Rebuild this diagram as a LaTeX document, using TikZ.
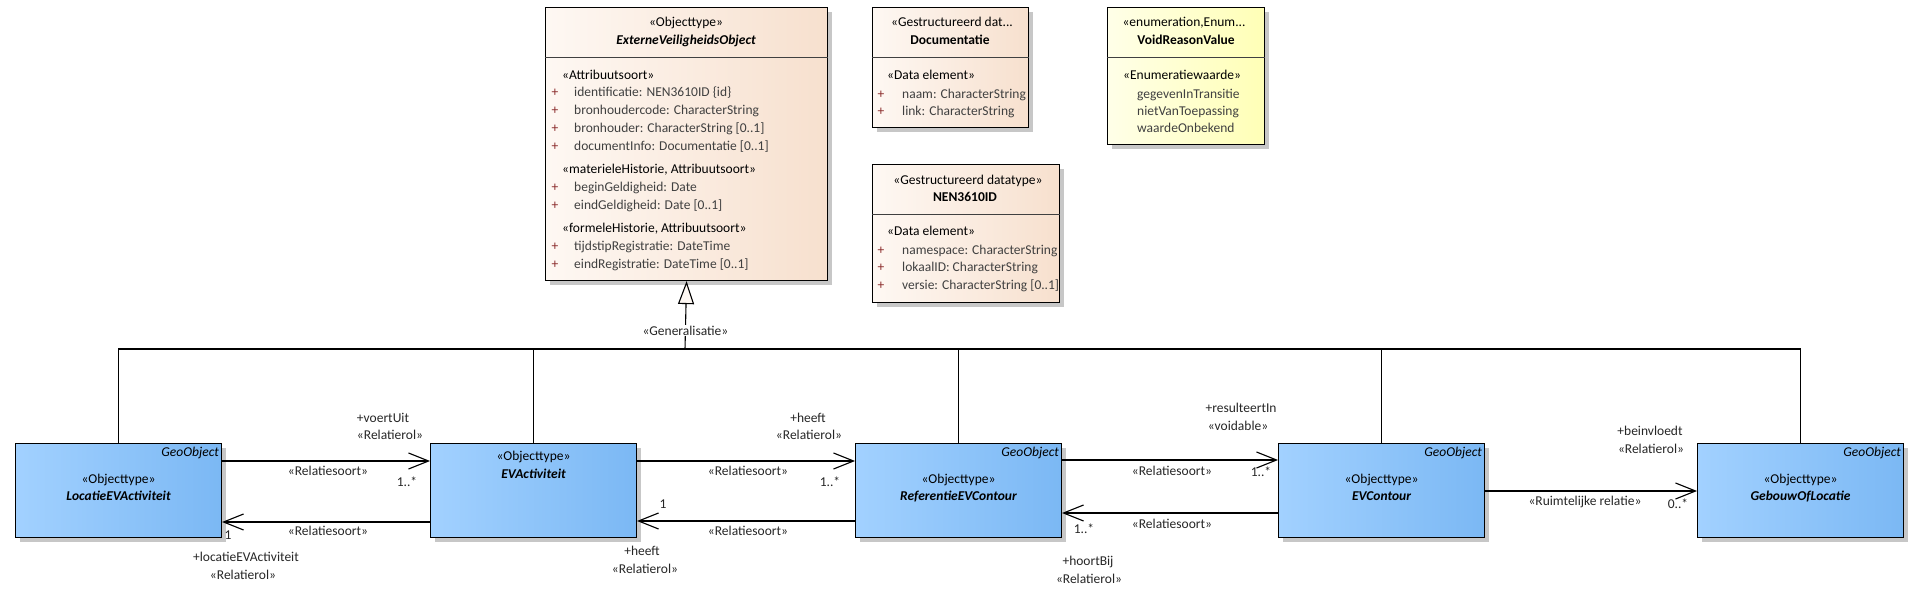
\documentclass[tikz,border=0pt]{standalone}
\usepackage{fontspec}
\setmainfont{Carlito}
\usetikzlibrary{arrows.meta,shadows}
\definecolor{peachL}{HTML}{FEF8F3}
\definecolor{peachR}{HTML}{F7E0CE}
\definecolor{blueL}{HTML}{A2D1FF}
\definecolor{blueR}{HTML}{7BB8F4}
\definecolor{yelL}{HTML}{FFFFE8}
\definecolor{yelR}{HTML}{FFFFB6}
\definecolor{attrgray}{HTML}{404040}
\definecolor{plusred}{HTML}{8A2A2A}
\tikzset{
  klasse/.style={draw=black,line width=1.1pt,anchor=north west,inner sep=0pt,
    drop shadow={shadow xshift=4pt,shadow yshift=-4pt,fill=black!22,opacity=1}},
  datakl/.style={klasse,left color=peachL,right color=peachR},
  enumkl/.style={klasse,left color=yelL,right color=yelR},
  geokl/.style={klasse,left color=blueL,right color=blueR,minimum width=206pt,minimum height=94pt},
  sepline/.style={draw=black!75,line width=0.9pt},
  ctr/.style={inner sep=0pt,anchor=mid},
  lft/.style={inner sep=0pt,anchor=mid west},
  attr/.style={lft,text=attrgray},
  plus/.style={ctr,text=plusred},
  lbl/.style={ctr,text=black!85},
  assoc/.style={line width=1.1pt,-{Straight Barb[length=20pt,width=16pt]}},
  genline/.style={line width=1.1pt}
}
\begin{document}
\begin{tikzpicture}[x=1pt,y=-1pt,font=\fontsize{13.5}{16}\selectfont]
\useasboundingbox (0,0) rectangle (1926,601);
% bovenste klassen
\node[datakl,minimum width=282pt,minimum height=273pt] (evo) at (545,7) {};
\node[datakl,minimum width=156pt,minimum height=120pt] (doc) at (872,7) {};
\node[datakl,minimum width=187pt,minimum height=138pt] (nen) at (872,164) {};
\node[enumkl,minimum width=157pt,minimum height=137pt] (void) at (1107,7) {};
\draw[sepline] ([yshift=-50pt]evo.north west) -- ([yshift=-50pt]evo.north east);
\draw[sepline] ([yshift=-50pt]doc.north west) -- ([yshift=-50pt]doc.north east);
\draw[sepline] ([yshift=-50pt]nen.north west) -- ([yshift=-50pt]nen.north east);
\draw[sepline] ([yshift=-50pt]void.north west) -- ([yshift=-50pt]void.north east);
% ExterneVeiligheidsObject
\node[ctr] (evo-st) at (686,24) {«Objecttype»};
\node[ctr] (evo-nm) at (686,42) {\bfseries\itshape ExterneVeiligheidsObject};
\node[lft] (evo-s1) at (562,77) {«Attribuutsoort»};
\node[lft] (evo-s2) at (562,171) {«materieleHistorie, Attribuutsoort»};
\node[lft] (evo-s3) at (562,230) {«formeleHistorie, Attribuutsoort»};
\foreach \y/\t [count=\i] in {94/{identificatie: NEN3610ID \{id\}},112/{bronhoudercode: CharacterString},
    130/{bronhouder: CharacterString [0..1]},148/{documentInfo: Documentatie [0..1]},
    189/{beginGeldigheid: Date},207/{eindGeldigheid: Date [0..1]},
    248/{tijdstipRegistratie: DateTime},266/{eindRegistratie: DateTime [0..1]}}
  {\node[plus] (evo-p\i) at (555,\y) {+}; \node[attr] (evo-a\i) at (574,\y) {\t};}
% Documentatie
\node[ctr] (doc-st) at (952,24) {«Gestructureerd dat...};
\node[ctr] (doc-nm) at (950,42) {\bfseries Documentatie};
\node[lft] (doc-s1) at (887,77) {«Data element»};
\foreach \y/\t [count=\i] in {96/{naam: CharacterString},113/{link: CharacterString}}
  {\node[plus] (doc-p\i) at (881,\y) {+}; \node[attr] (doc-a\i) at (902,\y) {\t};}
% NEN3610ID
\node[ctr] (nen-st) at (968,182) {«Gestructureerd datatype»};
\node[ctr] (nen-nm) at (965,199) {\bfseries NEN3610ID};
\node[lft] (nen-s1) at (887,233) {«Data element»};
\foreach \y/\t [count=\i] in {252/{namespace: CharacterString},269/{lokaalID: CharacterString},
    287/{versie: CharacterString [0..1]}}
  {\node[plus] (nen-p\i) at (881,\y) {+}; \node[attr] (nen-a\i) at (902,\y) {\t};}
% VoidReasonValue
\node[ctr] (void-st) at (1184,24) {«enumeration,Enum...};
\node[ctr] (void-nm) at (1186,42) {\bfseries VoidReasonValue};
\node[lft] (void-s1) at (1123,77) {«Enumeratiewaarde»};
\foreach \y/\t [count=\i] in {96/gegevenInTransitie,113/nietVanToepassing,130/waardeOnbekend}
  {\node[attr] (void-a\i) at (1137,\y) {\t};}
% onderste klassen
\node[geokl] (loc) at (15,443) {};
\node[geokl] (evact) at (430,443) {};
\node[geokl] (ref) at (855,443) {};
\node[geokl] (evc) at (1278,443) {};
\node[geokl] (geb) at (1697,443) {};
\foreach \n/\t in {loc/LocatieEVActiviteit,ref/ReferentieEVContour,evc/EVContour,geb/GebouwOfLocatie}
  {\node[inner sep=0pt,anchor=mid east,font=\fontsize{13.5}{16}\selectfont\itshape] (\n-geo) at ([xshift=-3pt,yshift=-11pt]\n.north east) {GeoObject};
   \node[ctr] (\n-st) at ([yshift=-38pt]\n.north) {«Objecttype»};
   \node[ctr] (\n-nm) at ([yshift=-55pt]\n.north) {\bfseries\itshape \t};}
\node[ctr] (evact-st) at ([yshift=-15pt]evact.north) {«Objecttype»};
\node[ctr] (evact-nm) at ([yshift=-33pt]evact.north) {\bfseries\itshape EVActiviteit};
% generalisatie
\coordinate (gen) at (685,349);
\draw[genline] (loc.north) |- (geb.north |- gen) -- (geb.north);
\foreach \n in {evact,ref,evc} \draw[genline] (\n.north) -- (\n.north |- gen);
\draw[genline,-{Triangle[length=23pt,width=16pt,fill=peachL]}] (gen) -- node[pos=0.27,fill=white,inner sep=1pt,text=black!85] (gen-lb) {«Generalisatie»} (evo.south);
% associaties
\draw[assoc] ([yshift=-18pt]loc.north east) -- ([yshift=-18pt]evact.north west);
\draw[assoc] ([yshift=-79pt]evact.north west) -- ([yshift=-79pt]loc.north east);
\draw[assoc] ([yshift=-18pt]evact.north east) -- ([yshift=-18pt]ref.north west);
\draw[assoc] ([yshift=-78pt]ref.north west) -- ([yshift=-78pt]evact.north east);
\draw[assoc] ([yshift=-17pt]ref.north east) -- ([yshift=-17pt]evc.north west);
\draw[assoc] ([yshift=-70pt]evc.north west) -- ([yshift=-70pt]ref.north east);
\draw[assoc] ([yshift=-48pt]evc.north east) -- ([yshift=-48pt]geb.north west);
\foreach \x/\y/\t [count=\i] in {383/420/+voertUit,390/437/«Relatierol»,328/473/«Relatiesoort»,407/484/1..*,
    328/533/«Relatiesoort»,228/537/1,246/559/+locatieEVActiviteit,243/577/«Relatierol»,
    808/420/+heeft,809/437/«Relatierol»,748/473/«Relatiesoort»,830/484/1..*,
    663/506/1,748/533/«Relatiesoort»,642/553/+heeft,645/571/«Relatierol»,
    1241/410/+resulteertIn,1238/428/«voidable»,1172/473/«Relatiesoort»,1261/474/1..*,
    1172/526/«Relatiesoort»,1084/531/1..*,1088/563/+hoortBij,1089/581/«Relatierol»,
    1650/433/+beinvloedt,1651/451/«Relatierol»,1585/503/«Ruimtelijke relatie»,1678/506/0..*}
  \node[lbl] (lb\i) at (\x,\y) {\t};
\end{tikzpicture}
\end{document}
